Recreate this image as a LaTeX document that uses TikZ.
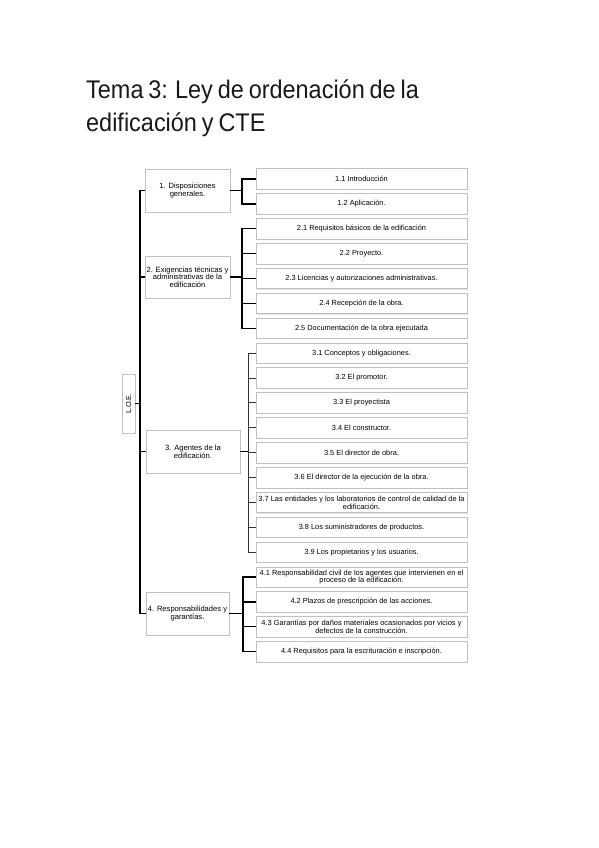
\documentclass[tikz,border=0pt]{standalone}
\usepackage{fontspec}
\setmainfont{Liberation Sans}
\newfontfamily\titlefont[FakeStretch=0.92,WordSpace=0.75]{Liberation Sans}
\usetikzlibrary{shadows}
\begin{document}
\begin{tikzpicture}[x=1pt,y=-1pt,
  box/.style={draw=black!25, fill=white, line width=0.6pt,
    drop shadow={opacity=0.2, shadow xshift=0.9pt, shadow yshift=-0.9pt},
    inner sep=1pt, align=center},
  leaf/.style={box, minimum width=211pt, minimum height=20.5pt,
    font=\fontsize{7.4}{7.9}\selectfont},
  small/.style={font=\fontsize{7.45}{7.9}\selectfont},
  topic/.style={box, minimum height=43pt, font=\fontsize{7.6}{7.6}\selectfont},
  conn/.style={line width=1.3pt, black},
  thinconn/.style={line width=0.9pt, black!80},
  titletext/.style={anchor=base west, inner sep=0pt, text=black!90,
    font=\titlefont\fontsize{25.5}{30}\selectfont}]
\fill[white] (0,0) rectangle (599,848);
\useasboundingbox (0,0) rectangle (599,848);

\node[titletext] (t1) at (86,99) {Tema 3: Ley de ordenación de la};
\node[titletext] (t2) at (86,131.5) {edificación y CTE};

% root
\node[box, rotate=90, minimum width=59pt, minimum height=13pt, inner sep=0pt,
  font=\fontsize{7.4}{7.4}\selectfont] (root) at (128.5,403.5) {L.O.E.};

% level 1
\node[topic, minimum width=85pt] (l1) at (187.5,190.5) {1. Disposiciones\\generales.};
\node[topic, minimum width=85pt, minimum height=42pt] (l2) at (187.5,277) {2. Exigencias técnicas y\\administrativas de la\\edificación};
\node[topic, minimum width=94pt] (l3) at (193,451.5) {3. Agentes de la\\edificación.};
\node[topic, minimum width=83pt] (l4) at (187.5,613.5) {4. Responsabilidades y\\garantías.};

% leaves
\node[leaf] (n11) at (361.5,179.0) {1.1 Introducción};
\node[leaf] (n12) at (361.5,203.9) {1.2 Aplicación.};
\node[leaf] (n21) at (361.5,228.8) {2.1 Requisitos básicos de la edificación};
\node[leaf] (n22) at (361.5,253.6) {2.2 Proyecto.};
\node[leaf] (n23) at (361.5,278.5) {2.3 Licencias y autorizaciones administrativas.};
\node[leaf] (n24) at (361.5,303.4) {2.4 Recepción de la obra.};
\node[leaf] (n25) at (361.5,328.3) {2.5 Documentación de la obra ejecutada};
\node[leaf] (n31) at (361.5,353.2) {3.1 Conceptos y obligaciones.};
\node[leaf] (n32) at (361.5,378.0) {3.2 El promotor.};
\node[leaf] (n33) at (361.5,402.9) {3.3 El proyectista};
\node[leaf] (n34) at (361.5,427.8) {3.4 El constructor.};
\node[leaf] (n35) at (361.5,452.7) {3.5 El director de obra.};
\node[leaf] (n36) at (361.5,477.6) {3.6 El director de la ejecución de la obra.};
\node[leaf, small] (n37) at (361.5,502.4) {3.7 Las entidades y los laboratorios de control de calidad de la\\edificación.};
\node[leaf] (n38) at (361.5,527.3) {3.8 Los suministradores de productos.};
\node[leaf] (n39) at (361.5,552.2) {3.9 Los propietarios y los usuarios.};
\node[leaf, small] (n41) at (361.5,577.1) {4.1 Responsabilidad civil de los agentes que intervienen en el\\proceso de la edificación.};
\node[leaf] (n42) at (361.5,602.0) {4.2 Plazos de prescripción de las acciones.};
\node[leaf, small] (n43) at (361.5,626.8) {4.3 Garantías por daños materiales ocasionados por vicios y\\defectos de la construcción.};
\node[leaf] (n44) at (361.5,651.7) {4.4 Requisitos para la escrituración e inscripción.};

% bus coordinates
\coordinate (tk) at (140,0);
\coordinate (b1) at (242,0);
\coordinate (b2) at (242,0);
\coordinate (b3) at (248,0);
\coordinate (b4) at (243,0);

% trunk
\draw[conn] (l1.west) -- (l1.west -| tk) -- (l4.west -| tk) -- (l4.west);
\draw[conn] (l2.west) -- (l2.west -| tk);
\draw[conn] (l3.west) -- (l3.west -| tk);
\draw[conn] (root.south) -- (root.south -| tk);

% group 1
\draw[conn] (l1.east) -- (l1.east -| b1);
\draw[conn] (n11.west) -- (n11.west -| b1) -- (n12.west -| b1) -- (n12.west);

% group 2
\draw[conn] (l2.east) -- (l2.east -| b2);
\draw[conn] (n21.west) -- (n21.west -| b2) -- (n25.west -| b2) -- (n25.west);
\foreach \n in {n22,n23,n24} \draw[conn] (\n.west) -- (\n.west -| b2);

% group 3
\draw[conn] (l3.east) -- (l3.east -| b3);
\draw[thinconn] (n31.west) -- (n31.west -| b3) -- (n39.west -| b3) -- (n39.west);
\foreach \n in {n32,n33,n34,n35,n36,n37,n38} \draw[thinconn] (\n.west) -- (\n.west -| b3);

% group 4
\draw[conn] (l4.east) -- (l4.east -| b4);
\draw[conn] (n41.west) -- (n41.west -| b4) -- (n44.west -| b4) -- (n44.west);
\foreach \n in {n42,n43} \draw[conn] (\n.west) -- (\n.west -| b4);
\end{tikzpicture}
\end{document}
